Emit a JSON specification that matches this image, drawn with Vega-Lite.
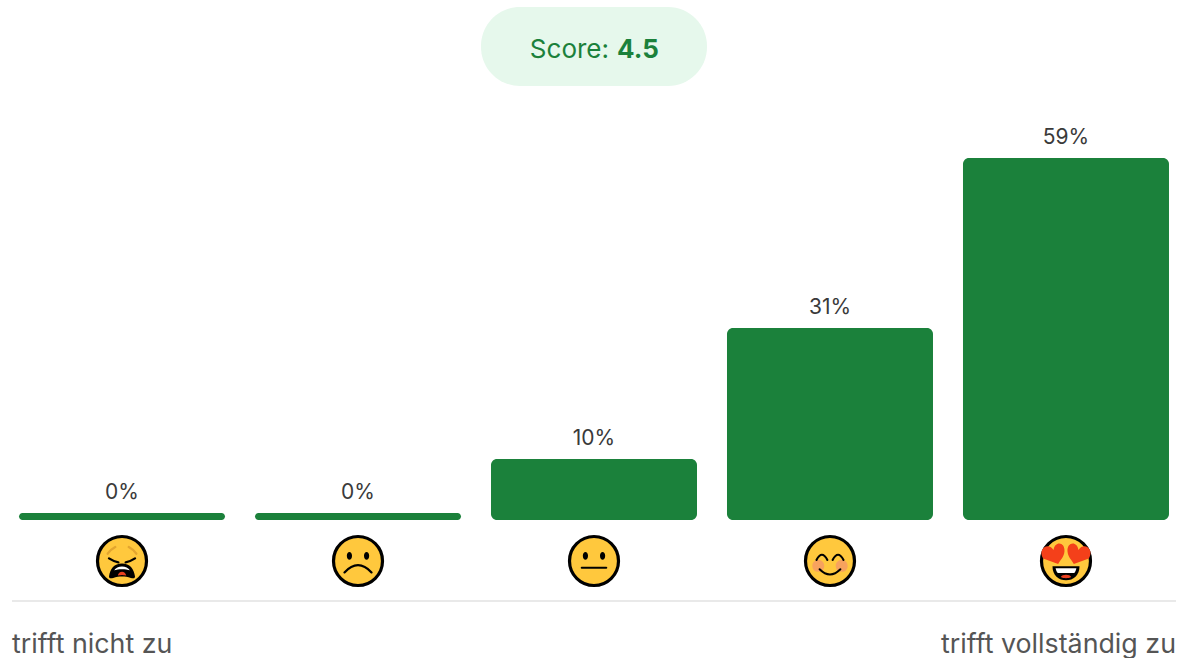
{
"$schema":"https://vega.github.io/schema/vega-lite/v6.json",
"width":1178,"height":658,"padding":0,"autosize":{"type":"none"},
"background":"#ffffff","view":{"stroke":null},
"config":{"text":{"font":"Inter"}},
"resolve":{"scale":{"shape":"independent","fill":"independent","stroke":"independent","strokeWidth":"independent"}},
"datasets":{
"antworten":[
{"stufe":"1","balken":1.14,"anteil":"0%"},
{"stufe":"2","balken":1.14,"anteil":"0%"},
{"stufe":"3","balken":9.94,"anteil":"10%"},
{"stufe":"4","balken":31.3,"anteil":"31%"},
{"stufe":"5","balken":59,"anteil":"59%"}],
"flaechen":[
{"stufe":"1","teil":"muede_mund"},{"stufe":"1","teil":"muede_zaehne"},{"stufe":"1","teil":"muede_zunge"},
{"stufe":"2","teil":"augen"},
{"stufe":"3","teil":"augen"},
{"stufe":"4","teil":"wangen"},
{"stufe":"5","teil":"herzen"},{"stufe":"5","teil":"lach_mund"},{"stufe":"5","teil":"lach_zaehne"},{"stufe":"5","teil":"lach_zunge"}],
"linien":[
{"stufe":"1","teil":"brauen"},{"stufe":"1","teil":"lider"},
{"stufe":"2","teil":"traurig"},
{"stufe":"3","teil":"neutral"},
{"stufe":"4","teil":"bogenaugen"},{"stufe":"4","teil":"laecheln"}]
},
"layer":[
{"data":{"values":[{"stufe":"3"}]},
 "mark":{"type":"bar","width":226,"cornerRadius":39,"color":"#e6f8ec"},
 "encoding":{
  "x":{"field":"stufe","type":"nominal","axis":null,"scale":{"domain":["1","2","3","4","5"],"range":[4,1184],"paddingInner":0.1271,"paddingOuter":0.0636}},
  "y":{"datum":83.6,"type":"quantitative","axis":null,"scale":{"domain":[-22.49,84.75],"nice":false,"zero":false}},
  "y2":{"datum":70.75}}},
{"data":{"name":"antworten"},
 "mark":{"type":"bar","cornerRadius":6,"color":"#1b813b"},
 "encoding":{
  "x":{"field":"stufe","type":"nominal","axis":null},
  "y":{"field":"balken","type":"quantitative","axis":null},
  "y2":{"datum":0}}},
{"data":{"name":"antworten"},
 "mark":{"type":"text","fontSize":21,"color":"#3a3a3a","dy":-14,"baseline":"alphabetic","align":"center"},
 "encoding":{
  "x":{"field":"stufe","type":"nominal","axis":null},
  "y":{"field":"balken","type":"quantitative","axis":null},
  "text":{"field":"anteil"}}},
{"data":{"values":[{"stufe":"3","text":"Score:"}]},
 "mark":{"type":"text","fontSize":26,"color":"#1b813b","align":"right","dx":15,"baseline":"alphabetic"},
 "encoding":{
  "x":{"field":"stufe","type":"nominal","axis":null},
  "y":{"datum":75.3,"type":"quantitative","axis":null},
  "text":{"field":"text"}}},
{"data":{"values":[{"stufe":"3","text":"4.5"}]},
 "mark":{"type":"text","fontSize":26,"fontWeight":700,"color":"#1b813b","align":"left","dx":23,"baseline":"alphabetic"},
 "encoding":{
  "x":{"field":"stufe","type":"nominal","axis":null},
  "y":{"datum":75.3,"type":"quantitative","axis":null},
  "text":{"field":"text"}}},
{"data":{"values":[{"von":"1","bis":"5"}]},
 "mark":{"type":"rule","color":"#e9e9e9","strokeWidth":2,"xOffset":-110,"x2Offset":110},
 "encoding":{
  "x":{"field":"von","type":"nominal","axis":null},
  "x2":{"field":"bis"},
  "y":{"datum":-13.2,"type":"quantitative","axis":null}}},
{"data":{"values":[{"stufe":"1","text":"trifft nicht zu"}]},
 "mark":{"type":"text","fontSize":26.8,"color":"#555555","align":"left","dx":-110,"baseline":"alphabetic"},
 "encoding":{
  "x":{"field":"stufe","type":"nominal","axis":null},
  "y":{"datum":-21.6,"type":"quantitative","axis":null},
  "text":{"field":"text"}}},
{"data":{"values":[{"stufe":"5","text":"trifft vollständig zu"}]},
 "mark":{"type":"text","fontSize":26.8,"color":"#555555","align":"right","dx":110,"baseline":"alphabetic"},
 "encoding":{
  "x":{"field":"stufe","type":"nominal","axis":null},
  "y":{"datum":-21.6,"type":"quantitative","axis":null},
  "text":{"field":"text"}}},
{"data":{"name":"antworten"},
 "mark":{"type":"point","shape":"circle","filled":true,"fill":"#ffc83d","stroke":"#000000","strokeWidth":3.2,"size":2401,"opacity":1},
 "encoding":{
  "x":{"field":"stufe","type":"nominal","axis":null},
  "y":{"datum":-6.68,"type":"quantitative","axis":null}}},
{"data":{"name":"flaechen"},
 "mark":{"type":"point","filled":true,"size":2704,"opacity":1,"strokeWidth":0},
 "encoding":{
  "x":{"field":"stufe","type":"nominal","axis":null},
  "y":{"datum":-6.68,"type":"quantitative","axis":null},
  "shape":{"field":"teil","type":"nominal","legend":null,"scale":{
    "domain":["augen","wangen","muede_mund","muede_zaehne","muede_zunge","herzen","lach_mund","lach_zaehne","lach_zunge"],
    "range":[
     "M-0.43,-0.2C-0.43,-0.4,-0.23,-0.4,-0.23,-0.2C-0.23,0,-0.43,0,-0.43,-0.2ZM0.23,-0.2C0.23,-0.4,0.43,-0.4,0.43,-0.2C0.43,0,0.23,0,0.23,-0.2Z",
     "M-0.68,0.19C-0.68,-0.11,-0.22,-0.11,-0.22,0.19C-0.22,0.49,-0.68,0.49,-0.68,0.19ZM0.22,0.19C0.22,-0.11,0.68,-0.11,0.68,0.19C0.68,0.49,0.22,0.49,0.22,0.19Z",
     "M-0.5,0.6C-0.46,0.3,-0.3,0.1,0,0.1C0.3,0.1,0.46,0.3,0.5,0.6C0.5,0.68,0.42,0.68,0.34,0.65C0.1,0.58,-0.1,0.58,-0.34,0.65C-0.42,0.68,-0.5,0.68,-0.5,0.6Z",
     "M-0.3,0.36C-0.2,0.16,0.2,0.16,0.3,0.36C0.15,0.3,-0.15,0.3,-0.3,0.36Z",
     "M-0.16,0.56C-0.14,0.36,0.14,0.36,0.16,0.56C0.05,0.53,-0.05,0.53,-0.16,0.56Z",
     "M-0.3,0.12L-0.88,-0.1C-1.1,-0.45,-0.7,-0.75,-0.48,-0.42C-0.42,-0.8,-0.02,-0.72,-0.06,-0.36C-0.08,-0.15,-0.24,-0.02,-0.3,0.12ZM0.3,0.12L0.88,-0.1C1.1,-0.45,0.7,-0.75,0.48,-0.42C0.42,-0.8,0.02,-0.72,0.06,-0.36C0.08,-0.15,0.24,-0.02,0.3,0.12Z",
     "M-0.52,0.2L0.52,0.2C0.52,0.55,0.28,0.74,0,0.74C-0.28,0.74,-0.52,0.55,-0.52,0.2Z",
     "M-0.4,0.28L0.4,0.28C0.38,0.36,0.36,0.42,0.32,0.46L-0.32,0.46C-0.36,0.42,-0.38,0.36,-0.4,0.28Z",
     "M-0.2,0.62C-0.15,0.5,0.15,0.5,0.2,0.62C0.1,0.68,-0.1,0.68,-0.2,0.62Z"]}},
  "fill":{"field":"teil","type":"nominal","legend":null,"scale":{
    "domain":["augen","wangen","muede_mund","muede_zaehne","muede_zunge","herzen","lach_mund","lach_zaehne","lach_zunge"],
    "range":["#000000","#f7a25e","#000000","#ffffff","#e8401f","#f4401a","#000000","#ffffff","#e8401f"]}}}},
{"data":{"name":"linien"},
 "mark":{"type":"point","filled":false,"size":2704,"opacity":1,"strokeCap":"round"},
 "encoding":{
  "x":{"field":"stufe","type":"nominal","axis":null},
  "y":{"datum":-6.68,"type":"quantitative","axis":null},
  "shape":{"field":"teil","type":"nominal","legend":null,"scale":{
    "domain":["brauen","lider","traurig","neutral","bogenaugen","laecheln"],
    "range":[
     "M-0.55,-0.28Q-0.45,-0.44,-0.26,-0.54M0.55,-0.28Q0.45,-0.44,0.26,-0.54",
     "M-0.5,-0.1Q-0.3,0.03,-0.14,0.05M0.5,-0.1Q0.3,0.03,0.14,0.05",
     "M-0.52,0.44Q0,-0.12,0.52,0.44",
     "M-0.47,0.26L0.47,0.26",
     "M-0.52,-0.04Q-0.31,-0.44,-0.1,-0.04M0.1,-0.04Q0.31,-0.44,0.52,-0.04",
     "M-0.4,0.32Q0,0.72,0.4,0.32"]}},
  "strokeWidth":{"field":"teil","type":"nominal","legend":null,"scale":{
    "domain":["brauen","lider","traurig","neutral","bogenaugen","laecheln"],
    "range":[2.4,2,3,3,3.2,3.4]}},
  "stroke":{"field":"teil","type":"nominal","legend":null,"scale":{
    "domain":["brauen","lider","traurig","neutral","bogenaugen","laecheln"],
    "range":["#e3a52f","#000000","#000000","#000000","#000000","#000000"]}}}}
]
}
